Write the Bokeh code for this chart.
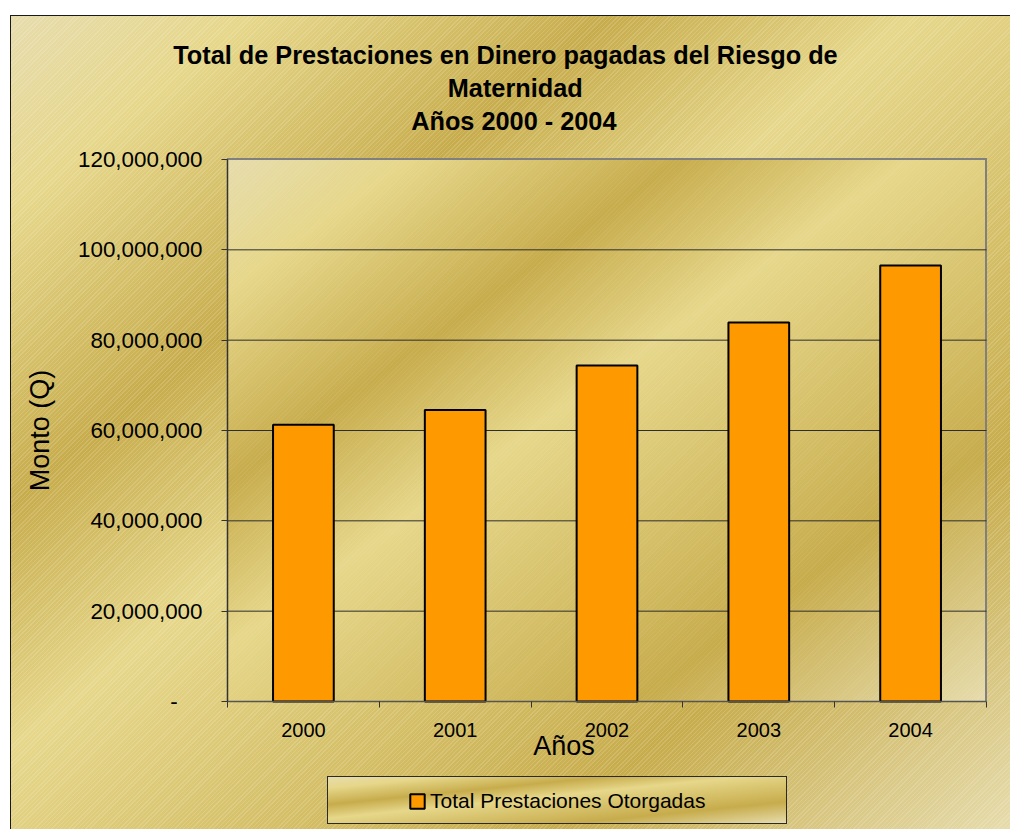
from bokeh.plotting import figure
from bokeh.models import (Range1d, FixedTicker, NumeralTickFormatter, Legend,
                          LegendItem, ColumnDataSource, Label)
from bokeh.core.properties import value
from bokeh.embed import file_html
from bokeh.resources import INLINE

# ---------------- data ----------------
years = ["2000", "2001", "2002", "2003", "2004"]
amounts = [61260000, 64560000, 74390000, 83930000, 96530000]
y_ticks = [0, 20000000, 40000000, 60000000, 80000000, 100000000, 120000000]
title_lines = ["Total de Prestaciones en Dinero pagadas del Riesgo de",
               "Maternidad",
               "Años 2000 - 2004"]
series_name = "Total Prestaciones Otorgadas"
x_title = "Años"
y_title = "Monto (Q)"

# ---------------- layout (pixels) ----------------
W, H = 1010, 829
PX0, PX1 = 227, 986        # plot area left / right
PY_TOP, PY_BOT = 159, 701  # plot area top / bottom
FONT = "Liberation Sans"

n = len(years)
ymax = y_ticks[-1]
xs_per_px = n / (PX1 - PX0)
ys_per_px = ymax / (PY_BOT - PY_TOP)

# the frame covers the whole canvas; the data window is mapped onto the plot area
p = figure(width=W, height=H, output_backend="svg", toolbar_location=None,
           x_range=Range1d(-PX0 * xs_per_px, n + (W - PX1) * xs_per_px),
           y_range=Range1d(-(H - PY_BOT) * ys_per_px, ymax + PY_TOP * ys_per_px),
           min_border=0)
p.min_border_left = p.min_border_right = p.min_border_top = p.min_border_bottom = 0
p.border_fill_color = None
p.background_fill_color = None
p.outline_line_color = None
p.xgrid.visible = False
p.ygrid.visible = False

# horizontal gridlines across the plot area
grid_vals = y_ticks[1:-1]
p.segment(x0=[0] * len(grid_vals), x1=[n] * len(grid_vals), y0=grid_vals, y1=grid_vals,
          line_color="#2e2e2e", line_width=1)

xs = [i + 0.5 for i in range(n)]
src = ColumnDataSource(dict(x=xs, top=amounts, year=years))
bars = p.vbar(x="x", top="top", bottom=0, width=0.4, source=src,
              fill_color="#FF9900", line_color="black", line_width=2)

# x axis
xa = p.xaxis[0]
xa.fixed_location = 0
xa.bounds = (0, n)
xa.ticker = FixedTicker(ticks=xs, minor_ticks=list(range(n + 1)))
xa.major_label_overrides = {x: y for x, y in zip(xs, years)}
xa.major_tick_line_color = None
xa.major_tick_out = 6
xa.major_tick_in = 0
xa.minor_tick_line_color = "#333333"
xa.minor_tick_out = 6
xa.minor_tick_in = 0
xa.axis_line_color = "#555555"
xa.axis_line_width = 1.5
xa.major_label_text_font = FONT
xa.major_label_text_font_size = "20px"
xa.major_label_text_color = "black"
xa.major_label_standoff = 15

# y axis
ya = p.yaxis[0]
ya.fixed_location = 0
ya.bounds = (0, ymax)
ya.ticker = FixedTicker(ticks=y_ticks)
ya.formatter = NumeralTickFormatter(format="0,0")
ya.major_label_overrides = {0: "-" + "\u00a0" * 4}
ya.major_tick_out = 6
ya.major_tick_in = 0
ya.major_tick_line_color = "#333333"
ya.minor_tick_line_color = None
ya.axis_line_color = "#333333"
ya.axis_line_width = 1.5
ya.major_label_text_font = FONT
ya.major_label_text_font_size = "22.4px"
ya.major_label_text_color = "black"
ya.major_label_standoff = 19
ya.axis_label = y_title
ya.axis_label_text_font = FONT
ya.axis_label_text_font_size = "27px"
ya.axis_label_text_font_style = "normal"
ya.axis_label_text_color = "black"
ya.axis_label_standoff = 20

# chart title (three lines)
title_left = [172.7, 447.3, 410.7]
title_y = [54.0, 87.3, 120.6]
for line, lx, ty in zip(title_lines, title_left, title_y):
    p.add_layout(Label(x=lx, y=H - ty, x_units="screen", y_units="screen",
                       text=line, text_align="left", text_baseline="alphabetic",
                       text_font=FONT, text_font_style="bold", text_font_size="25.3px",
                       text_color="black"))

# x axis title
p.add_layout(Label(x=532.7, y=H - 745, x_units="screen", y_units="screen",
                   text=x_title, text_align="left", text_baseline="alphabetic",
                   text_font=FONT, text_font_size="27px", text_color="black"))

# legend
legend = Legend(items=[LegendItem(label=value(series_name), renderers=[bars])],
                location=(408, 16),
                glyph_width=18, glyph_height=18, label_standoff=4, padding=6,
                label_height=24, spacing=0, margin=0,
                background_fill_alpha=0, border_line_color=None,
                label_text_font=FONT, label_text_font_size="21px",
                label_text_color="black")
p.add_layout(legend)

# decorative gold gradient backgrounds (Excel "Gold" preset) via CSS
G = "#E6DCAC 0%, #E6D78A 12%, #C7AC4C 30%, #E6D78A 45%, #C7AC4C 77%, #E6DCAC 100%"
def stripes(a):
    c = f"rgba(255,255,255,{a})"
    z = "rgba(255,255,255,0)"
    return f"repeating-linear-gradient(135deg, {c} 0px, {c} 1px, {z} 1px, {z} 3px)"

PW, PH = PX1 - PX0, PY_BOT - PY_TOP
layers = [
    (f"linear-gradient(to bottom right, {G})", "328px 777px", "458px 46px"),
    ("linear-gradient(#2a2a2a, #2a2a2a)", "327px 776px", "460px 48px"),
    ("linear-gradient(#808080, #808080)", f"{PX0}px {PY_TOP - 1}px", f"{PW + 1}px 2px"),
    ("linear-gradient(#808080, #808080)", f"{PX1 - 1}px {PY_TOP - 1}px", f"2px {PH + 1}px"),
    (stripes(0.06), f"{PX0}px {PY_TOP}px", f"{PW}px {PH}px"),
    (f"linear-gradient(to bottom right, {G})", f"{PX0}px {PY_TOP}px", f"{PW}px {PH}px"),
    ("linear-gradient(#1a1a1a, #1a1a1a)", "10px 15px", "1px 1000px"),
    ("linear-gradient(#1a1a1a, #1a1a1a)", "10px 15px", "1000px 1px"),
    (stripes(0.15), "11px 16px", "1000px 814px"),
    (f"linear-gradient(to bottom right, {G})", "11px 16px", "1000px 814px"),
]
p.styles = {
    "background-color": "#ffffff",
    "background-image": ", ".join(l[0] for l in layers),
    "background-position": ", ".join(l[1] for l in layers),
    "background-size": ", ".join(l[2] for l in layers),
    "background-repeat": ", ".join("no-repeat" for _ in layers),
}

open("out.html", "w").write(file_html(p, INLINE))
